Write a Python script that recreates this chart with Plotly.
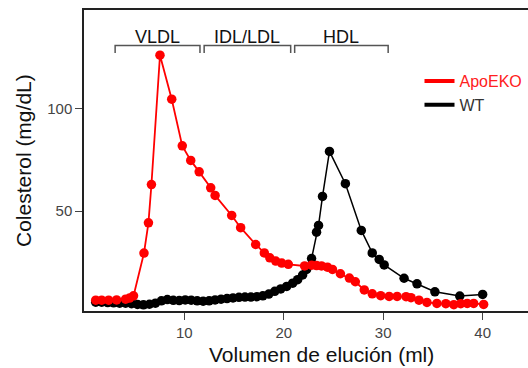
import plotly.graph_objects as go

# ApoEKO (red)
apo_x = [1.1, 1.7, 2.4, 3.2, 4.1, 4.5, 4.9, 5.95, 6.4, 6.7, 7.56, 8.74, 9.8, 10.65,
         11.5, 12.66, 13.1, 14.77, 15.67, 17.18, 18.05, 18.6, 19.2, 19.8, 20.46,
         22.1, 22.8, 23.3, 23.8, 24.4, 24.9, 25.7, 26.6, 27.2, 28.1, 28.9, 29.75,
         30.6, 31.4, 32.3, 32.8, 33.6, 34.4, 35.4, 36.3, 37.1, 37.8, 38.45, 39.1, 40.1]
apo_y = [6.5, 6.5, 6.5, 6.6, 7.0, 7.5, 8.6, 29.5, 44.3, 63.0, 126.2, 104.7, 81.9, 74.8,
         69.2, 61.4, 57.7, 47.9, 41.9, 33.7, 29.6, 27.2, 25.6, 24.6, 24.0,
         23.2, 23.6, 23.4, 23.2, 22.6, 21.5, 19.4, 17.3, 15.5, 11.5, 9.6, 8.7,
         8.3, 8.3, 8.2, 7.7, 6.5, 5.4, 4.9, 4.8, 4.3, 4.8, 4.9, 4.9, 4.4]

# WT (black)
wt_x = [1.1, 1.7, 2.3, 2.9, 3.5, 4.1, 4.7, 5.3, 5.9, 6.5, 7.1, 7.7, 8.3, 8.9, 9.5,
        10.1, 10.7, 11.3, 11.9, 12.5, 13.1, 13.7, 14.3, 14.9, 15.5, 16.1, 16.7,
        17.3, 17.9, 18.5, 19.1, 19.7, 20.3, 20.9, 21.4, 21.9, 22.3, 22.8, 23.3,
        23.5, 23.9, 24.6, 26.2, 27.8, 28.9, 29.6, 30.1, 32.1, 33.4, 35.2, 37.7, 40.0]
wt_y = [5.5, 5.5, 5.3, 5.2, 5.0, 5.0, 4.8, 4.4, 4.2, 4.5, 5.0, 6.2, 6.8, 6.4, 6.3,
        6.6, 6.5, 6.2, 6.0, 6.2, 6.6, 7.0, 7.3, 7.6, 7.9, 8.0, 8.0,
        8.2, 8.6, 9.5, 10.8, 12.0, 13.2, 14.8, 16.5, 18.8, 21.5, 26.8, 39.7,
        43.0, 57.2, 79.2, 63.4, 40.6, 29.6, 26.4, 23.7, 17.2, 14.5, 10.6, 8.5, 9.3]

# Lipoprotein fractions (label, start ml, end ml)
fractions = ["VLDL", "IDL/LDL", "HDL"]
frac_start = [3.05, 12.0, 21.1]
frac_end = [11.58, 20.7, 30.5]

x_ticks = [10, 20, 30, 40]
y_ticks = [50, 100]

FONT = "Liberation Sans, Arial, sans-serif"

fig = go.Figure()
fig.add_trace(go.Scatter(x=wt_x, y=wt_y, mode="lines+markers",
                         line=dict(color="#000000", width=1.5),
                         marker=dict(color="#000000", size=9.5),
                         showlegend=False))
fig.add_trace(go.Scatter(x=apo_x, y=apo_y, mode="lines+markers",
                         line=dict(color="#ff0000", width=1.8),
                         marker=dict(color="#ff0000", size=9.5),
                         showlegend=False))
# legend entries
fig.add_trace(go.Scatter(x=[None], y=[None], mode="lines",
                         line=dict(color="#ff0000", width=4),
                         name='<span style="color:#ff2020">ApoEKO</span>'))
fig.add_trace(go.Scatter(x=[None], y=[None], mode="lines",
                         line=dict(color="#000000", width=4),
                         name='<span style="color:#333333">WT</span>'))

top_y = 130.9
tick_y = 127.3
for lab, s, e in zip(fractions, frac_start, frac_end):
    fig.add_shape(type="path",
                  path=f"M {s},{tick_y} L {s},{top_y} L {e},{top_y} L {e},{tick_y}",
                  line=dict(color="#555555", width=1.5))
    fig.add_annotation(x=(s + e) / 2, y=top_y, text=lab, showarrow=False,
                       yanchor="bottom", yshift=-3,
                       font=dict(family=FONT, size=18, color="#111111"))

fig.add_annotation(xref="paper", yref="paper", x=(321 - 84) / 444, y=0,
                   yanchor="top", yshift=-30, text="Volumen de elución (ml)",
                   showarrow=False, font=dict(family=FONT, size=21, color="#111111"))
fig.add_annotation(xref="paper", yref="paper", x=0, y=0.5, xanchor="right",
                   xshift=-47, textangle=-90, text="Colesterol (mg/dL)",
                   showarrow=False, font=dict(family=FONT, size=21, color="#111111"))

fig.update_layout(
    width=528, height=368,
    margin=dict(l=84, r=0, t=9.5, b=57.3),
    plot_bgcolor="white", paper_bgcolor="white",
    font=dict(family=FONT, size=15, color="#444444"),
    legend=dict(x=(419.5 - 84) / 444, y=(313.1 - 66) / 301.2, xanchor="left", yanchor="top",
                bgcolor="rgba(0,0,0,0)", font=dict(size=16), tracegroupgap=0),
    xaxis=dict(range=[-0.08, 44.56], tickvals=x_ticks, ticks="outside", ticklen=7,
               tickwidth=1.2, tickcolor="#444444", showline=True, linecolor="#222222",
               linewidth=1.5, mirror=True, showgrid=False, zeroline=False),
    yaxis=dict(range=[1.2, 148.3], tickvals=y_ticks, ticks="outside", ticklen=7,
               tickwidth=1.2, tickcolor="#444444", showline=True, linecolor="#222222",
               linewidth=1.5, showgrid=False, zeroline=False),
)

fig.write_html("out.html")
